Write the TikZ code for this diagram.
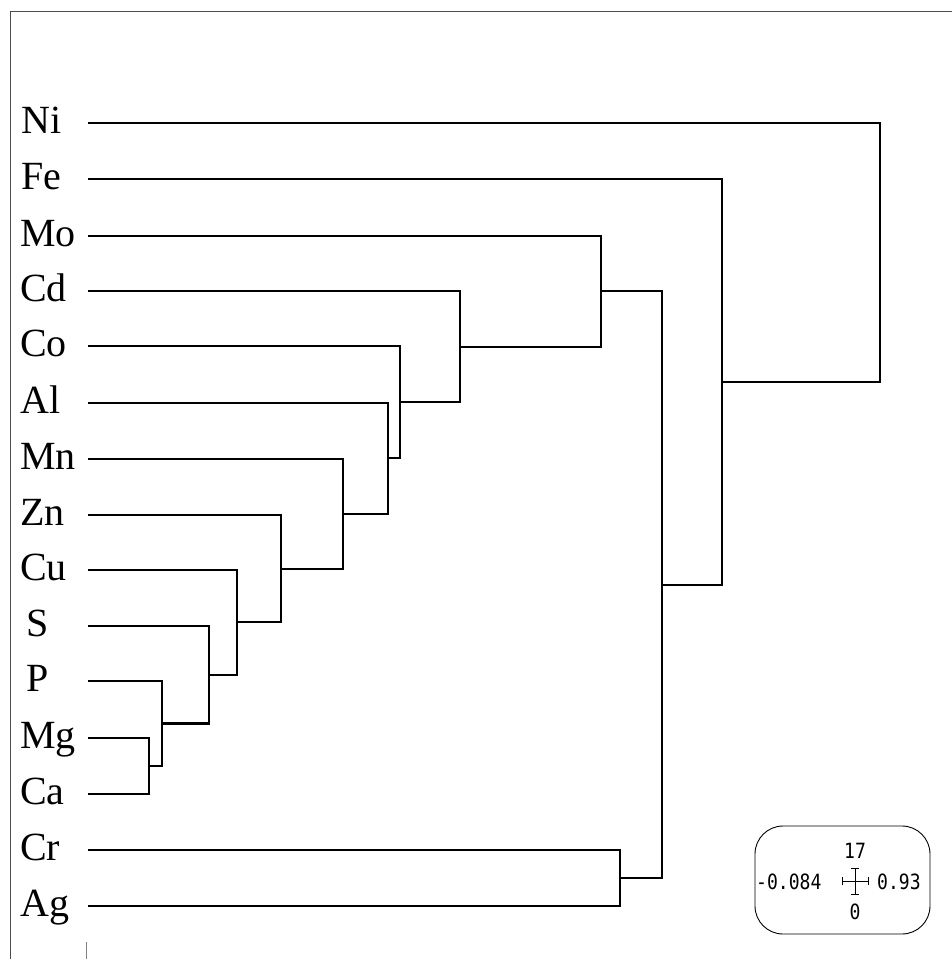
\documentclass[tikz,border=0pt]{standalone}
\usepackage{fontspec}
\setmainfont{Liberation Serif}
\newfontfamily\legendfont[FakeStretch=0.86]{DejaVu Sans Mono}
\begin{document}
\begin{tikzpicture}[x=1pt,y=-1pt,
  leaflabel/.style={anchor=base west,inner sep=0pt,font=\fontsize{40}{40}\selectfont},
  branch/.style={line width=2.1pt,black},
  framestyle/.style={line width=1pt,black!70},
  legtext/.style={inner sep=0pt,font=\legendfont\fontsize{21}{21}\selectfont}]
\useasboundingbox (0,0) rectangle (952,959);

% page frame (top and left edges only) and bottom tick
\draw[framestyle] (10,959) -- (10,11) -- (952,11);
\draw[line width=0.8pt,black!50] (86,942) -- (86,959);

% leaf labels
\foreach \name/\yy/\xx in {Ni/123/21,Fe/179/21,Mo/236/20,Cd/291/20,Co/346/20,
  Al/403/20,Mn/459/20,Zn/515/20,Cu/570/20,S/626/26,P/681/26,Mg/738/20,
  Ca/794/20,Cr/850/20,Ag/906/20}{
  \node[leaflabel] (t\name) at (\xx,\yy+10) {\name};
  \coordinate (l\name) at (88,\yy);
}

% merge points of the dendrogram
\coordinate (m1) at (149,766);
\coordinate (m2) at (162,723.5);
\coordinate (m3) at (209,674.75);
\coordinate (m4) at (237,622.4);
\coordinate (m5) at (281,568.7);
\coordinate (m6) at (343,513.8);
\coordinate (m7) at (388,458.4);
\coordinate (m8) at (400,402.2);
\coordinate (m9) at (460,346.6);
\coordinate (m10) at (601,291.3);
\coordinate (m11) at (620,878);
\coordinate (m12) at (662,584.6);
\coordinate (m13) at (722,381.8);
\coordinate (m14) at (880,252.4);

% branches
\draw[branch] (lMg) -| (m1) |- (lCa);
\draw[branch] (lP) -| (m2) |- (m1);
\draw[branch] (lS) -| (m3) |- (m2);
\draw[branch] (lCu) -| (m4) |- (m3);
\draw[branch] (lZn) -| (m5) |- (m4);
\draw[branch] (lMn) -| (m6) |- (m5);
\draw[branch] (lAl) -| (m7) |- (m6);
\draw[branch] (lCo) -| (m8) |- (m7);
\draw[branch] (lCd) -| (m9) |- (m8);
\draw[branch] (lMo) -| (m10) |- (m9);
\draw[branch] (lCr) -| (m11) |- (lAg);
\draw[branch] (m10) -| (m12) |- (m11);
\draw[branch] (lFe) -| (m13) |- (m12);
\draw[branch] (lNi) -| (m14) |- (m13);

% legend
\node[draw,line width=0.9pt,rounded corners=28pt,minimum width=175pt,
  minimum height=108pt,inner sep=0pt] (legend) at (842.5,880) {};
\coordinate (cross) at (855,881);
\node[legtext] (ltop) at (855,851) {17};
\node[legtext] (lbot) at (855,912) {0};
\node[legtext,anchor=west] (lleft) at (756,882) {-0.084};
\node[legtext,anchor=west] (lright) at (877,882) {0.93};
\draw[line width=0.8pt] ([xshift=-13pt]cross) -- ([xshift=13pt]cross)
  ([yshift=-13pt]cross) -- ([yshift=13pt]cross);
\draw[line width=0.8pt] ([xshift=-13pt,yshift=-4pt]cross) -- ([xshift=-13pt,yshift=4pt]cross)
  ([xshift=13pt,yshift=-4pt]cross) -- ([xshift=13pt,yshift=4pt]cross)
  ([xshift=-4pt,yshift=-13pt]cross) -- ([xshift=4pt,yshift=-13pt]cross)
  ([xshift=-4pt,yshift=13pt]cross) -- ([xshift=4pt,yshift=13pt]cross);
\end{tikzpicture}
\end{document}
